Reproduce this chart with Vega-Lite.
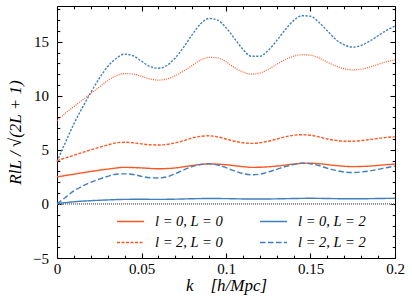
{
"$schema": "https://vega.github.io/schema/vega-lite/v6.json",
"width": 338, "height": 252,
"autosize": "none",
"padding": {"left": 57, "top": 6, "right": 17, "bottom": 48},
"config": {
  "view": {"stroke": "black", "strokeWidth": 1},
  "font": "Liberation Serif",
  "axis": {"ticks": true, "zindex": 1, "domain": false, "tickColor": "black", "tickWidth": 1.1, "labelColor": "black", "titleColor": "black", "labelFont": "Liberation Serif", "titleFont": "Liberation Serif", "labelFontSize": 15, "titleFontSize": 17, "titleFontWeight": "normal", "titleFontStyle": "italic", "grid": false, "labelOverlap": false, "labelFlush": false},
  "legend": {"orient": "none", "legendX": 59, "legendY": 201, "columns": 2, "symbolType": "stroke", "symbolSize": 729, "symbolStrokeWidth": 1.4, "labelFont": "Liberation Serif", "labelFontStyle": "italic", "labelFontSize": 14.5, "labelColor": "black", "labelOffset": 10, "rowPadding": -10, "columnPadding": 34, "padding": 0, "title": null}
},
"data": {"values": [
{"s":"zero","k":0,"v":0},{"s":"zero","k":0.2,"v":0},
{"s":"l0L0","k":0,"v":2.5},{"s":"l0L0","k":0.01,"v":2.75},{"s":"l0L0","k":0.02,"v":3.0},{"s":"l0L0","k":0.03,"v":3.22},{"s":"l0L0","k":0.04,"v":3.38},{"s":"l0L0","k":0.05,"v":3.33},{"s":"l0L0","k":0.06,"v":3.25},{"s":"l0L0","k":0.07,"v":3.33},{"s":"l0L0","k":0.08,"v":3.55},{"s":"l0L0","k":0.09,"v":3.7},{"s":"l0L0","k":0.1,"v":3.62},{"s":"l0L0","k":0.11,"v":3.45},{"s":"l0L0","k":0.115,"v":3.38},{"s":"l0L0","k":0.12,"v":3.39},{"s":"l0L0","k":0.13,"v":3.5},{"s":"l0L0","k":0.14,"v":3.68},{"s":"l0L0","k":0.147,"v":3.77},{"s":"l0L0","k":0.155,"v":3.72},{"s":"l0L0","k":0.165,"v":3.55},{"s":"l0L0","k":0.175,"v":3.45},{"s":"l0L0","k":0.185,"v":3.5},{"s":"l0L0","k":0.195,"v":3.63},{"s":"l0L0","k":0.2,"v":3.68},
{"s":"l0L2","k":0,"v":0.05},{"s":"l0L2","k":0.005,"v":0.12},{"s":"l0L2","k":0.01,"v":0.2},{"s":"l0L2","k":0.02,"v":0.3},{"s":"l0L2","k":0.03,"v":0.37},{"s":"l0L2","k":0.04,"v":0.42},{"s":"l0L2","k":0.05,"v":0.43},{"s":"l0L2","k":0.06,"v":0.42},{"s":"l0L2","k":0.07,"v":0.44},{"s":"l0L2","k":0.08,"v":0.48},{"s":"l0L2","k":0.09,"v":0.5},{"s":"l0L2","k":0.1,"v":0.49},{"s":"l0L2","k":0.11,"v":0.46},{"s":"l0L2","k":0.12,"v":0.45},{"s":"l0L2","k":0.13,"v":0.47},{"s":"l0L2","k":0.14,"v":0.5},{"s":"l0L2","k":0.15,"v":0.52},{"s":"l0L2","k":0.16,"v":0.5},{"s":"l0L2","k":0.17,"v":0.48},{"s":"l0L2","k":0.18,"v":0.48},{"s":"l0L2","k":0.19,"v":0.5},{"s":"l0L2","k":0.2,"v":0.52},
{"s":"l2L0","k":0,"v":4.0},{"s":"l2L0","k":0.01,"v":4.5},{"s":"l2L0","k":0.02,"v":5.0},{"s":"l2L0","k":0.03,"v":5.45},{"s":"l2L0","k":0.035,"v":5.65},{"s":"l2L0","k":0.04,"v":5.7},{"s":"l2L0","k":0.045,"v":5.65},{"s":"l2L0","k":0.05,"v":5.55},{"s":"l2L0","k":0.055,"v":5.47},{"s":"l2L0","k":0.06,"v":5.45},{"s":"l2L0","k":0.065,"v":5.5},{"s":"l2L0","k":0.07,"v":5.65},{"s":"l2L0","k":0.075,"v":5.85},{"s":"l2L0","k":0.08,"v":6.1},{"s":"l2L0","k":0.085,"v":6.25},{"s":"l2L0","k":0.09,"v":6.3},{"s":"l2L0","k":0.095,"v":6.2},{"s":"l2L0","k":0.1,"v":6.0},{"s":"l2L0","k":0.105,"v":5.8},{"s":"l2L0","k":0.11,"v":5.65},{"s":"l2L0","k":0.115,"v":5.6},{"s":"l2L0","k":0.12,"v":5.65},{"s":"l2L0","k":0.125,"v":5.8},{"s":"l2L0","k":0.13,"v":6.0},{"s":"l2L0","k":0.135,"v":6.2},{"s":"l2L0","k":0.14,"v":6.35},{"s":"l2L0","k":0.145,"v":6.4},{"s":"l2L0","k":0.15,"v":6.35},{"s":"l2L0","k":0.155,"v":6.2},{"s":"l2L0","k":0.16,"v":6.0},{"s":"l2L0","k":0.165,"v":5.88},{"s":"l2L0","k":0.17,"v":5.8},{"s":"l2L0","k":0.175,"v":5.8},{"s":"l2L0","k":0.18,"v":5.85},{"s":"l2L0","k":0.185,"v":5.95},{"s":"l2L0","k":0.19,"v":6.05},{"s":"l2L0","k":0.195,"v":6.15},{"s":"l2L0","k":0.2,"v":6.2},
{"s":"l2L2","k":0,"v":0},{"s":"l2L2","k":0.005,"v":0.6},{"s":"l2L2","k":0.01,"v":1.2},{"s":"l2L2","k":0.015,"v":1.65},{"s":"l2L2","k":0.02,"v":2.0},{"s":"l2L2","k":0.025,"v":2.3},{"s":"l2L2","k":0.03,"v":2.55},{"s":"l2L2","k":0.035,"v":2.75},{"s":"l2L2","k":0.04,"v":2.78},{"s":"l2L2","k":0.045,"v":2.72},{"s":"l2L2","k":0.05,"v":2.55},{"s":"l2L2","k":0.055,"v":2.42},{"s":"l2L2","k":0.06,"v":2.4},{"s":"l2L2","k":0.065,"v":2.5},{"s":"l2L2","k":0.07,"v":2.8},{"s":"l2L2","k":0.075,"v":3.15},{"s":"l2L2","k":0.08,"v":3.45},{"s":"l2L2","k":0.085,"v":3.65},{"s":"l2L2","k":0.09,"v":3.7},{"s":"l2L2","k":0.095,"v":3.6},{"s":"l2L2","k":0.1,"v":3.35},{"s":"l2L2","k":0.105,"v":3.05},{"s":"l2L2","k":0.11,"v":2.8},{"s":"l2L2","k":0.115,"v":2.7},{"s":"l2L2","k":0.12,"v":2.75},{"s":"l2L2","k":0.125,"v":2.95},{"s":"l2L2","k":0.13,"v":3.2},{"s":"l2L2","k":0.135,"v":3.45},{"s":"l2L2","k":0.14,"v":3.65},{"s":"l2L2","k":0.145,"v":3.77},{"s":"l2L2","k":0.15,"v":3.72},{"s":"l2L2","k":0.155,"v":3.55},{"s":"l2L2","k":0.16,"v":3.3},{"s":"l2L2","k":0.165,"v":3.1},{"s":"l2L2","k":0.17,"v":2.95},{"s":"l2L2","k":0.175,"v":2.9},{"s":"l2L2","k":0.18,"v":2.95},{"s":"l2L2","k":0.185,"v":3.05},{"s":"l2L2","k":0.19,"v":3.2},{"s":"l2L2","k":0.195,"v":3.35},{"s":"l2L2","k":0.2,"v":3.5},
{"s":"od","k":0,"v":7.7},{"s":"od","k":0.005,"v":8.4},{"s":"od","k":0.01,"v":9.0},{"s":"od","k":0.015,"v":9.6},{"s":"od","k":0.02,"v":10.2},{"s":"od","k":0.025,"v":10.8},{"s":"od","k":0.03,"v":11.4},{"s":"od","k":0.035,"v":11.85},{"s":"od","k":0.04,"v":12.05},{"s":"od","k":0.045,"v":12.0},{"s":"od","k":0.05,"v":11.8},{"s":"od","k":0.055,"v":11.55},{"s":"od","k":0.06,"v":11.45},{"s":"od","k":0.065,"v":11.55},{"s":"od","k":0.07,"v":11.85},{"s":"od","k":0.075,"v":12.3},{"s":"od","k":0.08,"v":12.8},{"s":"od","k":0.085,"v":13.3},{"s":"od","k":0.09,"v":13.55},{"s":"od","k":0.095,"v":13.5},{"s":"od","k":0.1,"v":13.15},{"s":"od","k":0.105,"v":12.6},{"s":"od","k":0.11,"v":12.2},{"s":"od","k":0.115,"v":12.0},{"s":"od","k":0.12,"v":12.1},{"s":"od","k":0.125,"v":12.45},{"s":"od","k":0.13,"v":12.9},{"s":"od","k":0.135,"v":13.35},{"s":"od","k":0.14,"v":13.65},{"s":"od","k":0.145,"v":13.8},{"s":"od","k":0.15,"v":13.75},{"s":"od","k":0.155,"v":13.5},{"s":"od","k":0.16,"v":13.1},{"s":"od","k":0.165,"v":12.75},{"s":"od","k":0.17,"v":12.5},{"s":"od","k":0.175,"v":12.4},{"s":"od","k":0.18,"v":12.45},{"s":"od","k":0.185,"v":12.65},{"s":"od","k":0.19,"v":12.9},{"s":"od","k":0.195,"v":13.15},{"s":"od","k":0.2,"v":13.3},
{"s":"bd","k":0,"v":3.9},{"s":"bd","k":0.005,"v":5.7},{"s":"bd","k":0.01,"v":7.4},{"s":"bd","k":0.015,"v":8.9},{"s":"bd","k":0.02,"v":10.3},{"s":"bd","k":0.025,"v":11.6},{"s":"bd","k":0.03,"v":12.7},{"s":"bd","k":0.035,"v":13.45},{"s":"bd","k":0.04,"v":13.85},{"s":"bd","k":0.045,"v":13.7},{"s":"bd","k":0.05,"v":13.2},{"s":"bd","k":0.055,"v":12.7},{"s":"bd","k":0.06,"v":12.55},{"s":"bd","k":0.065,"v":12.8},{"s":"bd","k":0.07,"v":13.5},{"s":"bd","k":0.075,"v":14.5},{"s":"bd","k":0.08,"v":15.65},{"s":"bd","k":0.085,"v":16.65},{"s":"bd","k":0.09,"v":17.15},{"s":"bd","k":0.095,"v":17.0},{"s":"bd","k":0.1,"v":16.3},{"s":"bd","k":0.105,"v":15.3},{"s":"bd","k":0.11,"v":14.3},{"s":"bd","k":0.115,"v":13.65},{"s":"bd","k":0.12,"v":13.65},{"s":"bd","k":0.125,"v":14.2},{"s":"bd","k":0.13,"v":15.1},{"s":"bd","k":0.135,"v":16.1},{"s":"bd","k":0.14,"v":16.95},{"s":"bd","k":0.145,"v":17.4},{"s":"bd","k":0.15,"v":17.35},{"s":"bd","k":0.155,"v":16.8},{"s":"bd","k":0.16,"v":16.0},{"s":"bd","k":0.165,"v":15.2},{"s":"bd","k":0.17,"v":14.7},{"s":"bd","k":0.175,"v":14.5},{"s":"bd","k":0.18,"v":14.65},{"s":"bd","k":0.185,"v":15.05},{"s":"bd","k":0.19,"v":15.55},{"s":"bd","k":0.195,"v":16.05},{"s":"bd","k":0.2,"v":16.45}
]},
"layer": [
  {
    "transform": [{"filter": "datum.s == 'od'"}],
    "mark": {"type": "line", "color": "#ff5722", "strokeWidth": 1.2, "strokeDash": [1, 1.2], "interpolate": "monotone"},
    "encoding": {
      "x": {"field": "k", "type": "quantitative", "scale": {"domain": [0, 0.2], "nice": false, "zero": false}, "axis": {"orient": "bottom", "title": null, "labels": false, "offset": -2.8, "tickSize": 2.8, "values": [0.01,0.02,0.03,0.04,0.06,0.07,0.08,0.09,0.11,0.12,0.13,0.14,0.16,0.17,0.18,0.19]}},
      "y": {"field": "v", "type": "quantitative", "scale": {"domain": [-5, 18.3], "nice": false, "zero": false}, "axis": {"orient": "left", "title": null, "labels": false, "offset": -2.8, "tickSize": 2.8, "values": [-4,-3,-2,-1,1,2,3,4,6,7,8,9,11,12,13,14,16,17,18]}}
    }
  },
  {
    "transform": [{"filter": "datum.s == 'bd'"}],
    "mark": {"type": "line", "color": "#3f7fbf", "strokeWidth": 1.4, "strokeDash": [2.2, 1.5], "interpolate": "monotone"},
    "encoding": {
      "x": {"field": "k", "type": "quantitative", "axis": {"orient": "top", "title": null, "labels": false, "offset": -2.8, "tickSize": 2.8, "values": [0.01,0.02,0.03,0.04,0.06,0.07,0.08,0.09,0.11,0.12,0.13,0.14,0.16,0.17,0.18,0.19]}},
      "y": {"field": "v", "type": "quantitative", "axis": {"orient": "right", "title": null, "labels": false, "offset": -2.8, "tickSize": 2.8, "values": [-4,-3,-2,-1,1,2,3,4,6,7,8,9,11,12,13,14,16,17,18]}}
    }
  },
  {
    "transform": [{"filter": "datum.s == 'zero'"}],
    "mark": {"type": "line", "color": "#888888", "strokeWidth": 1.6, "strokeDash": [1, 1]},
    "encoding": {
      "x": {"field": "k", "type": "quantitative", "axis": {"orient": "top", "title": null, "labels": false, "offset": -5, "tickSize": 5, "values": [0,0.05,0.1,0.15,0.2]}},
      "y": {"field": "v", "type": "quantitative", "axis": {"orient": "right", "title": null, "labels": false, "offset": -5, "tickSize": 5, "values": [-5,0,5,10,15]}}
    }
  },
  {
    "transform": [{"filter": "indexof(['l0L0','l0L2','l2L0','l2L2'], datum.s) >= 0"}],
    "mark": {"type": "line", "strokeWidth": 1.4, "interpolate": "monotone"},
    "encoding": {
      "x": {"field": "k", "type": "quantitative", "axis": {"orient": "bottom", "title": "k\u00a0\u00a0\u00a0\u00a0[h/Mpc]", "titlePadding": 1, "format": "~g", "offset": -5, "tickSize": 5, "labelPadding": 3.5, "values": [0,0.05,0.1,0.15,0.2]}},
      "y": {"field": "v", "type": "quantitative", "axis": {"orient": "left", "title": "RlL / √(2L + 1)", "titlePadding": 8, "offset": -5, "tickSize": 5, "labelPadding": 8.5, "values": [-5,0,5,10,15]}},
      "color": {"field": "s", "type": "nominal", "scale": {"domain": ["l0L0", "l2L0", "l0L2", "l2L2"], "range": ["#ff5722", "#ff5722", "#3f7fbf", "#3f7fbf"]}, "legend": {"labelExpr": "datum.label == 'l0L0' ? 'l = 0, L = 0' : datum.label == 'l0L2' ? 'l = 0, L = 2' : datum.label == 'l2L0' ? 'l = 2, L = 0' : 'l = 2, L = 2'"}},
      "strokeDash": {"field": "s", "type": "nominal", "scale": {"domain": ["l0L0", "l2L0", "l0L2", "l2L2"], "range": [[1, 0], [3, 1.5], [1, 0], [5.5, 2.5]]}, "legend": {"labelExpr": "datum.label == 'l0L0' ? 'l = 0, L = 0' : datum.label == 'l0L2' ? 'l = 0, L = 2' : datum.label == 'l2L0' ? 'l = 2, L = 0' : 'l = 2, L = 2'"}}
    }
  }
],
"resolve": {"axis": {"x": "independent", "y": "independent"}}
}
